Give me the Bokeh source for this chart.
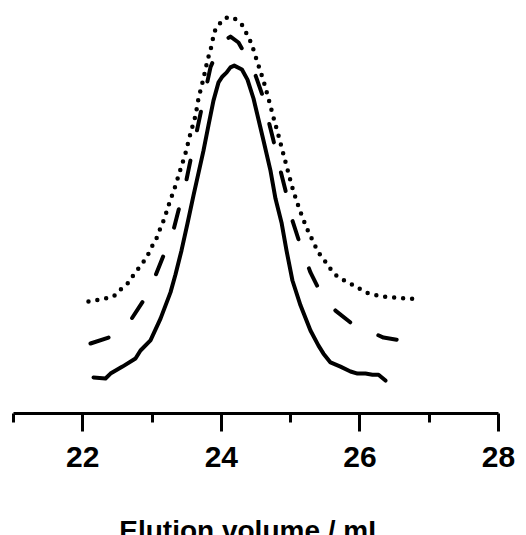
from bokeh.plotting import figure
from bokeh.models import Range1d, FixedTicker
from bokeh.layouts import column
from bokeh.core.properties import value
from bokeh.embed import file_html
from bokeh.resources import INLINE

# Elution volume (mL) and normalised signal
solid_x = [22.155, 22.328, 22.400, 22.573, 22.761, 22.833, 22.977, 23.122, 23.266, 23.338,
           23.425, 23.511, 23.598, 23.742, 23.814, 23.886, 23.959, 24.016, 24.074, 24.131,
           24.186, 24.297, 24.377, 24.464, 24.536, 24.608, 24.709, 24.781, 24.868, 24.940,
           25.026, 25.142, 25.286, 25.402, 25.474, 25.575, 25.719, 25.864, 25.965, 26.080,
           26.181, 26.268, 26.369]
solid_y = [0.103, 0.100, 0.114, 0.134, 0.157, 0.180, 0.209, 0.271, 0.346, 0.397,
           0.466, 0.543, 0.623, 0.751, 0.823, 0.894, 0.946, 0.963, 0.974, 0.989,
           0.994, 0.983, 0.954, 0.900, 0.840, 0.780, 0.694, 0.614, 0.546, 0.466,
           0.380, 0.309, 0.237, 0.194, 0.171, 0.146, 0.134, 0.120, 0.114, 0.114,
           0.111, 0.111, 0.094]

dashed_x = [22.111, 22.371, 22.544, 22.689, 22.876, 23.049, 23.165, 23.295, 23.381, 23.482,
            23.554, 23.627, 23.699, 23.771, 23.843, 23.987, 24.132, 24.247, 24.392, 24.493,
            24.594, 24.680, 24.752, 24.853, 24.926, 25.026, 25.142, 25.286, 25.431, 25.647,
            25.864, 26.109, 26.340, 26.585, 26.730]
dashed_y = [0.200, 0.217, 0.237, 0.266, 0.323, 0.394, 0.451, 0.514, 0.580, 0.654,
            0.723, 0.789, 0.857, 0.923, 0.989, 1.057, 1.077, 1.060, 1.009, 0.966,
            0.909, 0.837, 0.780, 0.694, 0.637, 0.551, 0.480, 0.403, 0.346, 0.294,
            0.260, 0.237, 0.217, 0.209, 0.206]

dotted_x = [22.082, 22.256, 22.443, 22.544, 22.660, 22.746, 22.862, 22.934, 23.006, 23.078,
            23.122, 23.179, 23.223, 23.266, 23.338, 23.396, 23.482, 23.554, 23.627, 23.670,
            23.742, 23.800, 23.872, 23.886, 23.959, 24.060, 24.176, 24.305, 24.363, 24.435,
            24.521, 24.608, 24.680, 24.752, 24.825, 24.897, 24.969, 25.041, 25.128, 25.229,
            25.358, 25.431, 25.532, 25.618, 25.748, 25.864, 25.965, 26.080, 26.196, 26.311,
            26.542, 26.657, 26.874]
dotted_y = [0.320, 0.326, 0.334, 0.354, 0.374, 0.400, 0.429, 0.451, 0.480, 0.506,
            0.531, 0.557, 0.586, 0.611, 0.651, 0.689, 0.743, 0.800, 0.851, 0.900,
            0.957, 1.009, 1.060, 1.086, 1.111, 1.131, 1.131, 1.109, 1.086, 1.057,
            1.003, 0.951, 0.900, 0.846, 0.794, 0.740, 0.686, 0.634, 0.583, 0.531,
            0.477, 0.451, 0.426, 0.400, 0.383, 0.371, 0.360, 0.346, 0.340, 0.334,
            0.331, 0.329, 0.326]

major_ticks = [22, 24, 26, 28]
minor_ticks = [21, 23, 25, 27]
x_title = "Elution volume / mL"

FONT = "Liberation Sans"

p = figure(width=526, height=480, output_backend="svg", toolbar_location=None,
           x_range=Range1d(21, 28), y_range=Range1d(0, 1.18),
           min_border_left=13, min_border_right=28, min_border_top=0,
           min_border_bottom=67)
p.outline_line_color = None
p.grid.visible = False
p.yaxis.visible = False
p.background_fill_color = "white"
p.border_fill_color = "white"

p.line(solid_x, solid_y, line_color="black", line_width=4, line_join="round", line_cap="round")
p.line(dashed_x, dashed_y, line_color="black", line_width=4, line_dash="19 31",
       line_join="round", line_cap="round")
p.line(dotted_x, dotted_y, line_color="black", line_width=4.5, line_dash="0 9",
       line_join="round", line_cap="round")

ax = p.xaxis[0]
ax.ticker = FixedTicker(ticks=major_ticks, minor_ticks=minor_ticks)
ax.axis_line_width = 3
ax.axis_line_color = "black"
ax.major_tick_line_width = 3
ax.minor_tick_line_width = 3
ax.major_tick_out = 18
ax.major_tick_in = 0
ax.minor_tick_out = 9
ax.minor_tick_in = 0
ax.major_label_text_font = FONT
ax.major_label_text_font_style = "bold"
ax.major_label_text_font_size = "30px"
ax.major_label_text_color = "black"
ax.major_label_standoff = 15

# strip holding the x-axis title, sharing the x scale of the chart
t = figure(width=526, height=55, output_backend="svg", toolbar_location=None,
           x_range=Range1d(21 - 13 / 69.29, 28 + 28 / 69.29), y_range=Range1d(0, 55),
           x_axis_type=None, y_axis_type=None,
           min_border_left=0, min_border_right=0, min_border_top=0, min_border_bottom=0)
t.outline_line_color = None
t.grid.visible = False
t.background_fill_color = "white"
t.border_fill_color = "white"
t.text(x=[24.55], y=[5], text=[x_title], text_font=value(FONT), text_font_style="bold",
       text_font_size="28px", text_color="black", text_align="center",
       text_baseline="alphabetic")

layout = column(p, t, spacing=0)

open("out.html", "w").write(file_html(layout, INLINE))
